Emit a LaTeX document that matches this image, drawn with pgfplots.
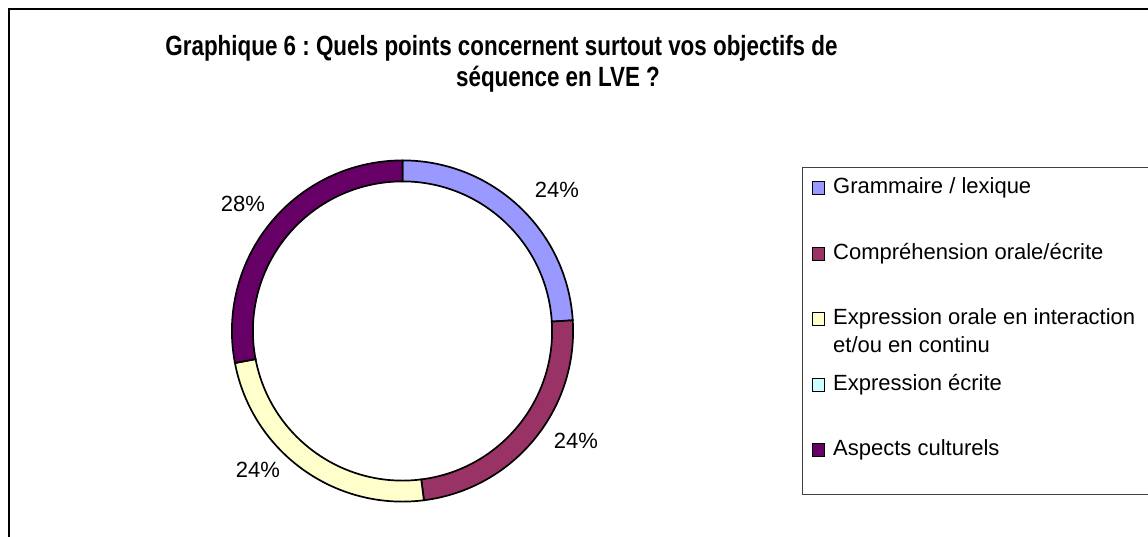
\documentclass[border=0pt]{standalone}
\usepackage{fontspec}
\setmainfont{Liberation Sans}
\usepackage{pgfplots}
\usepackage{pgfplotstable}
\pgfplotsset{compat=1.18}
\frenchspacing

\definecolor{slice0}{HTML}{9999FF}
\definecolor{slice1}{HTML}{993366}
\definecolor{slice2}{HTML}{FFFFCC}
\definecolor{slice3}{HTML}{CCFFFF}
\definecolor{slice4}{HTML}{660066}

% share (%) of each category, label position (px from left, px from bottom)
\pgfplotstableread{
value lx ly
24 557 347
24 576 96
24 258 67
0 nan nan
28 243 333
}\data

\newcommand\legtext[1]{\parbox[t]{320bp}{#1}}
\newcommand\ttl[1]{\scalebox{1}[1.24]{#1}}

\begin{document}
\begin{tikzpicture}
% cumulative angles, clockwise from the top
\pgfmathsetmacro\cum{0}
\pgfplotsforeachungrouped \i in {0,...,4}{%
  \pgfplotstablegetelem{\i}{value}\of\data
  \pgfmathsetmacro\sa{90-3.6*\cum}%
  \pgfmathsetmacro\cum{\cum+\pgfplotsretval}%
  \pgfmathsetmacro\ea{90-3.6*\cum}%
  \expandafter\xdef\csname sa\i\endcsname{\sa}%
  \expandafter\xdef\csname ea\i\endcsname{\ea}%
}
\begin{axis}[
  at={(0,0)}, anchor=origin,
  x=1bp, y=1bp,
  xmin=0, xmax=1148, ymin=0, ymax=537,
  hide axis, clip=false,
  unbounded coords=discard,
  /pgf/number format/assume math mode=true,
  legend style={
    at={(0.698606,0.689013)}, anchor=north west,
    draw=black!75, line width=1bp, fill=white,
    inner xsep=9bp, inner ysep=9bp,
    row sep=18.5bp, column sep=8.4bp,
    font=\fontsize{22bp}{28bp}\selectfont,
    nodes={inner sep=0pt, text height=17bp, text depth=30bp},
    cells={anchor=base west},
  },
  legend image code/.code={\draw[#1, line width=0.8bp] (0bp,-1bp) rectangle (12.5bp,12bp);},
]
% frame of the chart area
\draw[line width=2bp, black] (axis cs:9.3,-10) -- (axis cs:9.3,527.7) -- (axis cs:1170,527.7);

% donut ring
\pgfplotsinvokeforeach{0,...,4}{%
  \filldraw[fill=slice#1, draw=black, line width=1.7bp]
    ([shift={(\csname sa#1\endcsname:170.6bp)}]axis cs:402.5,206)
    arc[start angle=\csname sa#1\endcsname, end angle=\csname ea#1\endcsname, radius=170.6bp]
    -- ([shift={(\csname ea#1\endcsname:149.6bp)}]axis cs:402.5,206)
    arc[start angle=\csname ea#1\endcsname, end angle=\csname sa#1\endcsname, radius=149.6bp]
    -- cycle;
}

% percentage labels
\addplot[forget plot, draw=none, mark=none,
  point meta=explicit,
  nodes near coords={\pgfmathprintnumber{\pgfplotspointmeta}\%},
  every node near coord/.style={anchor=center, inner sep=0pt, font=\fontsize{22bp}{26bp}\selectfont, text=black},
] table[x=lx, y=ly, meta=value] {\data};

% title
\node[anchor=base, inner sep=0pt, font=\fontsize{22.4bp}{26bp}\selectfont\bfseries] at (axis cs:501.5,481) {\ttl{Graphique 6 : Quels points concernent surtout vos objectifs de}};
\node[anchor=base, inner sep=0pt, font=\fontsize{22.4bp}{26bp}\selectfont\bfseries] at (axis cs:558,450) {\ttl{séquence en LVE ?}};

\addlegendimage{fill=slice0, draw=black}
\addlegendentry{\legtext{Grammaire / lexique}}
\addlegendimage{fill=slice1, draw=black}
\addlegendentry{\legtext{Compréhension orale/écrite}}
\addlegendimage{fill=slice2, draw=black}
\addlegendentry{\legtext{Expression orale en interaction\newline et/ou en continu}}
\addlegendimage{fill=slice3, draw=black}
\addlegendentry{\legtext{Expression écrite}}
\addlegendimage{fill=slice4, draw=black}
\addlegendentry{\legtext{Aspects culturels}}
\end{axis}
\pgfresetboundingbox
\useasboundingbox (0,0) rectangle (1148bp,537bp);
\end{tikzpicture}
\end{document}
